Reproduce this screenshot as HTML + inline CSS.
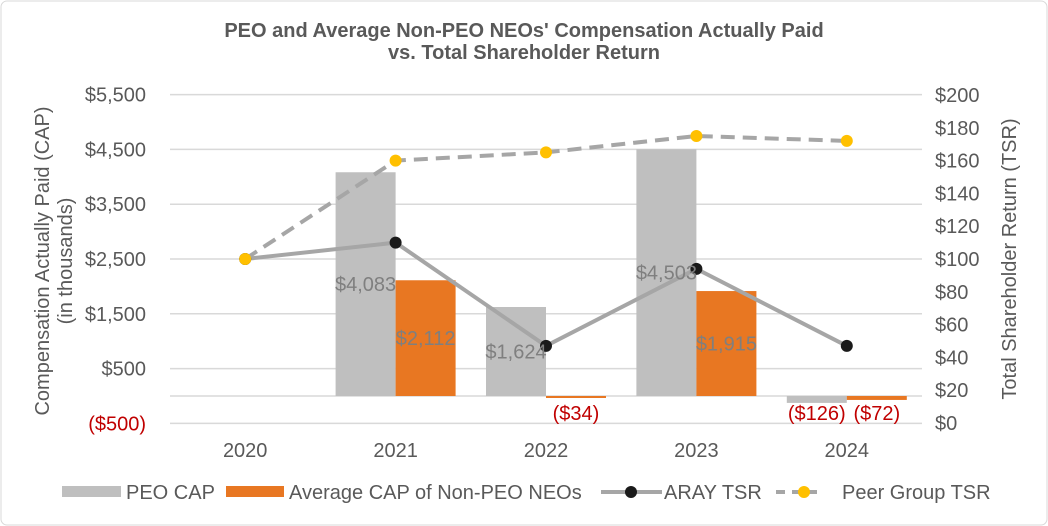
<!DOCTYPE html>
<html><head><meta charset="utf-8"><style>
body{margin:0;background:#fff;}
svg{display:block;font-family:"Liberation Sans",Arial,sans-serif;}
</style></head><body>
<svg id="c" width="1048" height="526">
<rect x="1" y="1" width="1046" height="524" rx="6" fill="#fff" stroke="#d9d9d9"/>
<text x="524" y="37" text-anchor="middle" font-size="20" font-weight="bold" fill="#595959">PEO and Average Non-PEO NEOs' Compensation Actually Paid</text>
<text x="524" y="59" text-anchor="middle" font-size="20" font-weight="bold" fill="#595959">vs. Total Shareholder Return</text>
<text transform="translate(49,261) rotate(-90)" text-anchor="middle" font-size="20" fill="#595959">Compensation Actually Paid (CAP)</text>
<text transform="translate(72,261) rotate(-90)" text-anchor="middle" font-size="20" fill="#595959">(in thousands)</text>
<text transform="translate(1016,259) rotate(-90)" text-anchor="middle" font-size="20" fill="#595959">Total Shareholder Return (TSR)</text>
<g id="grid"></g><g id="bars"></g><g id="lines"></g><g id="labels"></g>
<g font-size="20" fill="#595959">
<rect x="62" y="486" width="59" height="11" fill="#bfbfbf"/>
<text x="126" y="499">PEO CAP</text>
<rect x="226" y="486" width="58" height="11" fill="#e87722"/>
<text x="289" y="499">Average CAP of Non-PEO NEOs</text>
<line x1="601" y1="492" x2="662" y2="492" stroke="#a6a6a6" stroke-width="4"/>
<circle cx="631" cy="492" r="6" fill="#1a1a1a"/>
<text x="664" y="499">ARAY TSR</text>
<line x1="776" y1="492" x2="818" y2="492" stroke="#a6a6a6" stroke-width="4" stroke-dasharray="9,7"/>
<circle cx="804" cy="492" r="6" fill="#ffc000"/>
<text x="842" y="499">Peer Group TSR</text>
</g>
</svg>
<script>
const years=["2020","2021","2022","2023","2024"];
const peoCap=[null,4083,1624,4503,-126];
const neoCap=[null,2112,-34,1915,-72];
const arayTsr=[100,110,47,94,47];
const peerTsr=[100,160,165,175,172];
const leftTicks=[5500,4500,3500,2500,1500,500,0,-500];
const rightTicks=[200,180,160,140,120,100,80,60,40,20,0];
const NS="http://www.w3.org/2000/svg";
const X0=170,X1=922,Y0=396,PX=54.8/1000;
const yL=v=>Y0-v*PX;
const yR=v=>423-(v)*(328/200);
const step=(X1-X0)/years.length;
const xC=i=>X0+step*(i+0.5);
function mk(p,t,a){const e=document.createElementNS(NS,t);for(const k in a)e.setAttribute(k,a[k]);p.appendChild(e);return e;}
const grid=document.getElementById('grid'),bars=document.getElementById('bars'),lines=document.getElementById('lines'),labels=document.getElementById('labels');
const fmt=v=>v<0?"($"+Math.abs(v).toLocaleString('en-US')+")":"$"+v.toLocaleString('en-US');
leftTicks.forEach(v=>{
 const l=mk(grid,'line',{x1:X0,x2:X1,y1:yL(v),y2:yL(v),stroke:'#d9d9d9','stroke-width':1.5});
 
 
 if(v!==0){const t=mk(grid,'text',{x:146,y:yL(v)+7,'text-anchor':'end','font-size':20,fill:v<0?'#c00000':'#595959'});t.textContent=fmt(v);
 
 }
});
rightTicks.forEach(v=>{
 const t=mk(grid,'text',{x:935,y:yR(v)+7,'font-size':20,fill:'#595959'});t.textContent="$"+v;
 
 
});
years.forEach((y,i)=>{
 const t=mk(grid,'text',{x:xC(i),y:457,'text-anchor':'middle','font-size':20,fill:'#595959'});t.textContent=y;
 
 
});
const bw=60;
function bar(vals,off,col,name){
 vals.forEach((v,i)=>{if(v===null)return;
  const x=xC(i)+off, y=Math.min(yL(v),Y0), h=Math.abs(yL(v)-Y0);
  const r=mk(bars,'rect',{x:x,y:y,width:bw,height:Math.max(h,2),fill:col});
  
  
  let t;
  if(v>=0){t=mk(labels,'text',{x:x+bw/2,y:Y0-v*PX/2+7,'text-anchor':'middle','font-size':20,fill:'#7f7f7f'});}
  else{t=mk(labels,'text',{x:x+bw/2,y:420,'text-anchor':'middle','font-size':20,fill:'#c00000'});}
  t.textContent=fmt(v);
  
  
 });
}
bar(peoCap,-bw,'#bfbfbf','peo-cap-bar');
bar(neoCap,0,'#e87722','neo-cap-bar');
function line(vals,dash,mcol,name){
 const pts=vals.map((v,i)=>xC(i)+','+yR(v)).join(' ');
 const p=mk(lines,'polyline',{points:pts,fill:'none',stroke:'#a6a6a6','stroke-width':4});
 if(dash)p.setAttribute('stroke-dasharray','14,8');
 
 
 vals.forEach((v,i)=>{const c=mk(lines,'circle',{cx:xC(i),cy:yR(v),r:6,fill:mcol});
  
  });
}
line(arayTsr,false,'#1a1a1a','aray-tsr');
line(peerTsr,true,'#ffc000','peer-tsr');
</script>
</body></html>
